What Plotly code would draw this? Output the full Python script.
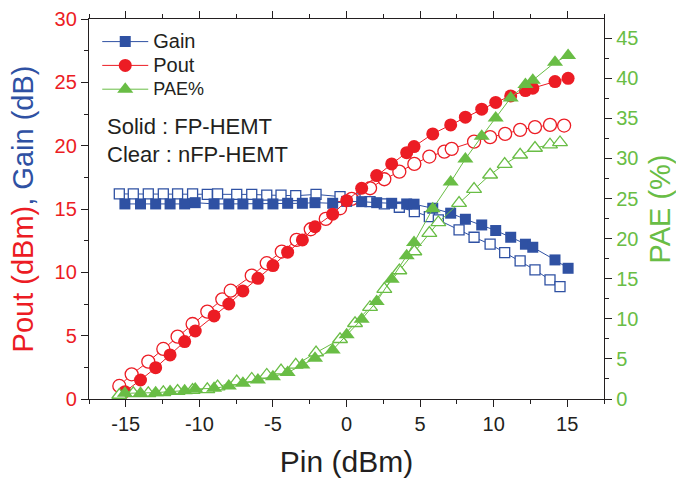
import plotly.graph_objects as go

# ---------------- data ----------------
pin_fp = [-15.06, -14.0, -12.97, -11.99, -11.0, -10.28, -9.0, -8.0, -7.04, -6.02, -5.0, -4.0, -3.0,
          -2.14, -0.94, 0.01, 1.03, 2.05, 3.07, 4.09, 4.59, 5.86, 7.08, 8.08, 9.19, 10.14, 11.16,
          12.16, 12.66, 14.17, 15.06]
gain_fp = [15.4, 15.4, 15.4, 15.4, 15.4, 15.5, 15.4, 15.4, 15.4, 15.4, 15.4, 15.45, 15.45,
           15.5, 15.45, 15.6, 15.58, 15.5, 15.45, 15.4, 15.38, 15.06, 14.67, 14.19, 13.74, 13.3,
           12.77, 12.22, 11.98, 10.98, 10.32]
pout_fp = [0.58, 1.5, 2.47, 3.48, 4.53, 5.37, 6.56, 7.5, 8.53, 9.53, 10.53, 11.59, 12.56,
           13.6, 14.59, 15.66, 16.64, 17.64, 18.56, 19.45, 19.93, 20.93, 21.64, 22.25, 22.88,
           23.41, 23.93, 24.35, 24.54, 25.06, 25.32]
pae_fp = [0.71, 0.71, 0.79, 0.92, 1.04, 1.25, 1.33, 1.62, 1.96, 2.37, 2.79, 3.29, 4.25,
          5.08, 6.12, 8.0, 9.95, 12.15, 14.95, 17.86, 19.52, 23.73, 27.06, 29.94, 32.76,
          35.06, 37.56, 39.22, 39.76, 42.0, 42.84]

pin_nfp_gp = [-15.44, -14.49, -13.47, -12.45, -11.48, -10.46, -9.46, -8.76, -7.46, -6.44, -5.42,
              -4.45, -3.45, -2.07, -0.44, 0.58, 1.6, 2.57, 3.59, 4.61, 5.63, 6.24, 7.65, 8.67,
              9.76, 10.75, 11.8, 12.81, 13.83, 14.51]
gain_nfp = [16.19, 16.19, 16.19, 16.19, 16.19, 16.19, 16.15, 16.2, 16.15, 16.15, 16.1, 16.1,
            16.05, 16.15, 15.98, 15.8, 15.58, 15.4, 15.14, 14.8, 14.4, 14.14, 13.35, 12.77,
            12.22, 11.56, 10.9, 10.19, 9.4, 8.87]
pae_nfp = [0.5, 0.71, 0.71, 0.83, 1.0, 1.12, 1.21, 1.54, 2.16, 2.5, 3.0, 3.54, 4.25, 5.78,
           7.45, 9.45, 11.45, 13.7, 16.03, 18.4, 20.7, 22.02, 24.44, 26.19, 27.97, 29.3, 30.47,
           31.31, 31.72, 32.0]

pin_nfp_pout = [-15.44, -14.6, -13.47, -12.45, -11.48, -10.46, -9.46, -8.44, -7.87, -6.44, -5.42,
                -4.4, -3.39, -2.43, -1.41, -0.44, 0.35, 1.6, 2.57, 3.59, 4.61, 5.63, 6.65, 7.15,
                8.67, 9.76, 10.78, 11.8, 12.81, 13.83, 14.79]
pout_nfp = [1.03, 1.95, 2.95, 3.95, 4.92, 5.92, 6.9, 7.87, 8.55, 9.74, 10.72, 11.64, 12.56,
            13.4, 14.22, 15.06, 15.8, 16.64, 17.35, 17.95, 18.56, 19.14, 19.53, 19.75, 20.32,
            20.67, 20.93, 21.25, 21.46, 21.64, 21.59]

x_ticks = [-15, -10, -5, 0, 5, 10, 15]
x_ticktext = ["-15", "-10", "-5", "0", "5", "10", "15"]

# ---------------- style ----------------
BLUE = "#2F51A3"
RED = "#EC1C24"
GREEN = "#69BD45"
DARK = "#231F20"
FONT = "Liberation Sans, Arial, sans-serif"

fig = go.Figure()

def add(x, y, color, symbol, size, solid, name, yaxis="y", show=False, lw=1.0):
    fig.add_trace(go.Scatter(
        x=x, y=y, mode="lines+markers", name=name, yaxis=yaxis, showlegend=show,
        line=dict(color=color, width=lw),
        marker=dict(symbol=symbol, size=size,
                    color=color if solid else "white",
                    line=dict(color=color, width=0 if solid else 1.3)),
    ))

add(pin_nfp_gp, gain_nfp, BLUE, "square", 10, False, "Gain nFP")
add(pin_nfp_gp, pae_nfp, GREEN, "triangle-up", 13, False, "PAE nFP", yaxis="y2")
add(pin_nfp_pout, pout_nfp, RED, "circle", 13, False, "Pout nFP")
add(pin_fp, gain_fp, BLUE, "square", 11, True, "<span style='font-size:20px'>Gain</span>", show=True)
add(pin_fp, pout_fp, RED, "circle", 13, True, "<span style='font-size:20px'>Pout</span>", show=True)
add(pin_fp, pae_fp, GREEN, "triangle-up", 14, True,
    "<span style='font-size:18px'>PAE%</span>", yaxis="y2", show=True)

axis_common = dict(showline=True, linecolor=DARK, linewidth=1.3, ticks="outside",
                   tickcolor=DARK, tickwidth=1.3, ticklen=7, showgrid=False, zeroline=False,
                   automargin=False)
minor = dict(dtick=2.5, ticklen=4, ticks="outside", tickcolor=DARK, tickwidth=1.3)

fig.update_layout(
    width=676, height=478,
    margin=dict(l=89, r=72, t=19, b=79),
    paper_bgcolor="white", plot_bgcolor="white",
    font=dict(family=FONT, size=20, color=DARK),
    xaxis=dict(range=[-17.5, 17.5], tickvals=x_ticks, ticktext=x_ticktext, mirror="ticks",
               minor=minor, tickfont=dict(size=20, color=DARK),
               title=dict(text="Pin (dBm)", font=dict(size=30, color=DARK), standoff=18),
               **axis_common),
    yaxis=dict(range=[0, 30], dtick=5, minor=minor,
               tickfont=dict(size=20, color=RED),
               title=dict(text=f"<span style='color:{RED}'>Pout (dBm)</span>"
                               f"<span style='color:{BLUE}'>, Gain (dB)</span>",
                          font=dict(size=29, color=RED), standoff=12),
               **axis_common),
    yaxis2=dict(range=[0, 47.4], dtick=5, overlaying="y", side="right", minor=minor,
                tickfont=dict(size=20, color=GREEN),
                title=dict(text="PAE (%)", font=dict(size=29, color=GREEN), standoff=17),
                **axis_common),
    legend=dict(x=0.016, y=0.985, xanchor="left", yanchor="top", bgcolor="rgba(0,0,0,0)",
                font=dict(size=16, color=DARK), tracegroupgap=0, itemwidth=46,
                traceorder="normal"),
    showlegend=True,
)

fig.add_annotation(x=0.031, y=0.716, xref="paper", yref="paper", xanchor="left",
                   yanchor="middle", showarrow=False, text="Solid : FP-HEMT",
                   font=dict(size=22, color=DARK))
fig.add_annotation(x=0.031, y=0.643, xref="paper", yref="paper", xanchor="left",
                   yanchor="middle", showarrow=False, text="Clear : nFP-HEMT",
                   font=dict(size=22, color=DARK))

fig.write_html("out.html")
